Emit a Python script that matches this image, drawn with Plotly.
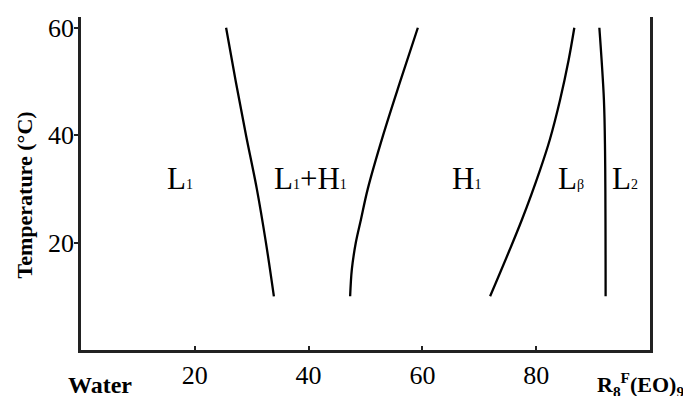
import plotly.graph_objects as go

# Phase boundary curves: composition (wt% R8F(EO)9) vs temperature (°C)
temp_b1 = [60, 50, 40, 30, 20, 10]
comp_b1 = [25.5, 27.2, 29.0, 30.9, 32.5, 33.9]          # L1 | L1+H1

temp_b2 = [60, 50, 40, 30, 24.3, 20, 15, 10]
comp_b2 = [59.2, 56.1, 53.1, 50.4, 49.2, 48.3, 47.6, 47.3]  # L1+H1 | H1

temp_b3 = [60, 54, 46.6, 39.2, 33.6, 24.3, 10]
comp_b3 = [86.7, 85.7, 84.2, 82.4, 80.7, 77.5, 71.9]      # H1 | Lbeta

temp_b4 = [60, 46.6, 37, 10]
comp_b4 = [91.1, 91.9, 92.1, 92.2]                       # Lbeta | L2

x_ticks = [20, 40, 60, 80]
y_ticks = [20, 40, 60]

# Region labels (position in data units)
region_text = ["L<span style='font-size:14px'>1</span>",
               "L<span style='font-size:14px'>1</span>+H<span style='font-size:14px'>1</span>",
               "H<span style='font-size:14px'>1</span>",
               "L<span style='font-size:14px'>β</span>",
               "L<span style='font-size:14px'>2</span>"]
region_x = [17.4, 40.4, 67.8, 86.1, 95.6]
region_y = [32, 32, 32, 32, 32]

SERIF = "Liberation Serif, Times New Roman, serif"

fig = go.Figure()
for xs, ys in [(comp_b1, temp_b1), (comp_b2, temp_b2), (comp_b3, temp_b3), (comp_b4, temp_b4)]:
    fig.add_trace(go.Scatter(x=xs, y=ys, mode="lines", line=dict(color="black", width=2.3, shape="spline"),
                             showlegend=False, hoverinfo="skip"))

for t, x, y in zip(region_text, region_x, region_y):
    fig.add_annotation(x=x, y=y, xref="x", yref="y", text=t, showarrow=False,
                       font=dict(family=SERIF, size=31, color="black"), xanchor="center", yanchor="middle")

fig.add_annotation(x=-0.099, y=28.9, xref="paper", yref="y", text="<b>Temperature (°C)</b>", textangle=-90,
                   showarrow=False, font=dict(family=SERIF, size=22, color="black"),
                   xanchor="center", yanchor="middle")
fig.add_annotation(x=0.033, y=-0.106, xref="paper", yref="paper", text="<b>Water</b>", showarrow=False,
                   font=dict(family=SERIF, size=24, color="black"), xanchor="center", yanchor="middle")
fig.add_annotation(x=0.984, y=-0.104, xref="paper", yref="paper",
                   text="<b>R<sub>8</sub><sup>F</sup>(EO)<sub>9</sub></b>", showarrow=False,
                   font=dict(family=SERIF, size=22, color="black"), xanchor="center", yanchor="middle")

# The page body adds an 8 px offset, so the figure is 8 px smaller than the window
fig.update_layout(
    width=683, height=388,
    margin=dict(l=73, r=41, t=6, b=40),
    paper_bgcolor="white", plot_bgcolor="white",
    showlegend=False,
    xaxis=dict(range=[0, 100], tickvals=x_ticks, ticks="inside", ticklen=4, tickwidth=1.5, tickcolor="#222",
               showline=True, linecolor="#222", linewidth=2.5, showgrid=False, zeroline=False,
               tickfont=dict(family=SERIF, size=26, color="black")),
    yaxis=dict(range=[0, 62], tickvals=y_ticks, ticks="outside", ticklen=4, tickwidth=1.5, tickcolor="#222",
               showline=True, linecolor="#222", linewidth=2.5, mirror=True, showgrid=False, zeroline=False,
               ticklabelstandoff=-5,
               tickfont=dict(family=SERIF, size=26, color="black")),
)

fig.write_html("out.html")
